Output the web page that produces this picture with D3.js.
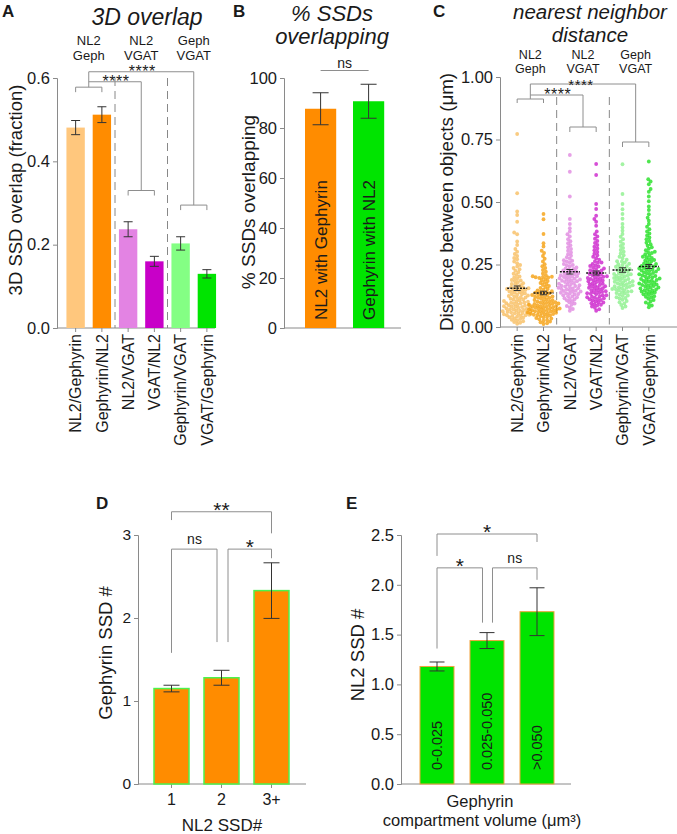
<!DOCTYPE html>
<html><head><meta charset="utf-8">
<script src="https://cdn.jsdelivr.net/npm/d3@7"></script>
<style>
body{margin:0;background:#fff}
text{font-family:"Liberation Sans",Arial,Helvetica,sans-serif;fill:#1a1a1a}
</style>
</head><body>
<svg id="c" width="677" height="834" xmlns="http://www.w3.org/2000/svg"></svg>
<script>
// ---------------- DATA ----------------
// Panel A: 3D overlap
const catsA = ["NL2/Gephyrin","Gephyrin/NL2","NL2/VGAT","VGAT/NL2","Gephyrin/VGAT","VGAT/Gephyrin"];
const overlapMean = [0.481, 0.512, 0.237, 0.160, 0.203, 0.130];
const overlapErr  = [0.017, 0.019, 0.018, 0.012, 0.016, 0.010];
const colorsA = ["#FFC77D","#FF8C00","#E383E3","#C800C8","#84FF84","#00E400"];
const groupTop = ["NL2","NL2","Geph"];
const groupBottom = ["Geph","VGAT","VGAT"];

// Panel B: % SSDs overlapping
const catsB = ["NL2 with Gephyrin","Gephyrin with NL2"];
const pctMean = [87.7, 90.7];
const pctErr  = [6.4, 6.8];
const colorsB = ["#FF8C00","#00E400"];

// Panel C: nearest neighbor distance (µm)
const catsC = catsA;
const nnd1 = [0.772,0.535,0.462,0.448,0.421,0.378,0.371,0.342,0.328,0.312,0.301,0.292,0.284,0.276,0.271,0.262,0.255,0.248,0.242,0.236,0.231,0.225,0.219,0.213,0.208,0.202,0.198,0.193,0.188,0.184,0.179,0.175,0.171,0.167,0.163,0.159,0.156,0.152,0.149,0.146,0.142,0.139,0.135,0.132,0.129,0.126,0.122,0.119,0.116,0.113,0.110,0.107,0.104,0.101,0.098,0.095,0.093,0.090,0.087,0.085,0.082,0.080,0.077,0.075,0.072,0.070,0.068,0.065,0.063,0.061,0.058,0.056,0.054,0.051,0.049,0.047,0.044,0.042,0.039,0.037,0.034,0.032,0.029,0.026,0.023,0.020,0.017,0.013,0.061,0.074,0.088,0.095,0.102,0.118,0.131,0.144,0.158,0.172,0.186,0.047,0.055,0.066,0.081,0.152,0.155,0.148,0.071,0.083,0.097,0.109,0.124,0.138,0.045,0.059];
const nnd2 = [0.452,0.431,0.372,0.335,0.322,0.305,0.296,0.284,0.273,0.262,0.251,0.243,0.236,0.228,0.221,0.214,0.207,0.203,0.200,0.198,0.196,0.192,0.188,0.184,0.180,0.176,0.172,0.168,0.164,0.160,0.156,0.152,0.149,0.146,0.143,0.140,0.137,0.134,0.131,0.128,0.125,0.122,0.119,0.116,0.113,0.110,0.107,0.104,0.101,0.099,0.096,0.094,0.091,0.089,0.086,0.084,0.082,0.079,0.077,0.075,0.073,0.070,0.068,0.066,0.064,0.062,0.060,0.057,0.055,0.053,0.051,0.048,0.046,0.044,0.041,0.039,0.036,0.034,0.031,0.028,0.025,0.022,0.019,0.015,0.012,0.101,0.092,0.083,0.071,0.063,0.058,0.117,0.126,0.135,0.078,0.088,0.199,0.201,0.052,0.067,0.074,0.093,0.108,0.121,0.141,0.049,0.056,0.069,0.081,0.097];
const nnd3 = [0.688,0.621,0.522,0.432,0.412,0.395,0.382,0.371,0.362,0.351,0.343,0.335,0.327,0.319,0.312,0.305,0.298,0.291,0.285,0.279,0.273,0.267,0.262,0.257,0.252,0.247,0.242,0.238,0.234,0.230,0.226,0.222,0.218,0.214,0.210,0.207,0.203,0.200,0.196,0.193,0.190,0.186,0.183,0.180,0.176,0.173,0.170,0.167,0.164,0.160,0.157,0.154,0.151,0.147,0.144,0.141,0.137,0.134,0.130,0.127,0.123,0.119,0.115,0.111,0.107,0.103,0.099,0.094,0.089,0.084,0.078,0.072,0.065,0.224,0.215,0.205,0.195,0.185,0.165,0.155,0.145,0.135,0.232,0.248,0.265,0.112,0.122,0.152,0.162,0.172,0.182,0.192,0.142,0.132,0.202,0.212];
const nnd4 = [0.652,0.608,0.492,0.472,0.445,0.432,0.421,0.405,0.382,0.371,0.362,0.353,0.344,0.336,0.328,0.321,0.314,0.307,0.300,0.293,0.287,0.281,0.275,0.269,0.263,0.257,0.252,0.247,0.242,0.237,0.232,0.227,0.223,0.219,0.215,0.211,0.207,0.203,0.199,0.195,0.191,0.187,0.183,0.179,0.175,0.171,0.167,0.163,0.159,0.155,0.151,0.147,0.143,0.139,0.135,0.131,0.127,0.123,0.119,0.115,0.111,0.107,0.103,0.099,0.095,0.091,0.087,0.082,0.077,0.071,0.065,0.212,0.201,0.192,0.181,0.173,0.162,0.153,0.141,0.133,0.121,0.112,0.226,0.234,0.244,0.258,0.145,0.098,0.089,0.205,0.196,0.186,0.168,0.157,0.137,0.127,0.117,0.108];
const nnd5 = [0.651,0.532,0.492,0.471,0.452,0.433,0.412,0.398,0.385,0.372,0.361,0.351,0.341,0.332,0.324,0.316,0.308,0.301,0.294,0.287,0.281,0.275,0.269,0.263,0.258,0.253,0.248,0.243,0.239,0.235,0.231,0.227,0.223,0.219,0.215,0.211,0.207,0.203,0.199,0.195,0.191,0.187,0.183,0.179,0.175,0.171,0.167,0.163,0.159,0.155,0.151,0.147,0.143,0.139,0.134,0.129,0.124,0.119,0.114,0.109,0.104,0.099,0.094,0.088,0.082,0.076,0.221,0.212,0.204,0.196,0.186,0.177,0.166,0.157,0.146,0.136,0.126,0.232,0.241,0.251,0.262,0.116,0.209,0.192,0.181,0.171,0.161,0.152,0.141];
const nnd6 = [0.662,0.591,0.582,0.571,0.552,0.541,0.522,0.503,0.482,0.468,0.451,0.437,0.425,0.412,0.401,0.391,0.382,0.374,0.366,0.358,0.351,0.344,0.337,0.331,0.325,0.319,0.313,0.307,0.301,0.296,0.291,0.286,0.281,0.276,0.271,0.266,0.262,0.258,0.254,0.250,0.246,0.242,0.238,0.234,0.230,0.226,0.222,0.218,0.214,0.210,0.206,0.202,0.198,0.194,0.190,0.186,0.182,0.178,0.174,0.170,0.166,0.162,0.158,0.154,0.150,0.146,0.142,0.138,0.133,0.128,0.123,0.118,0.113,0.108,0.103,0.098,0.092,0.086,0.079,0.244,0.236,0.228,0.216,0.204,0.192,0.184,0.172,0.164,0.152,0.141,0.131,0.252,0.268,0.279,0.298,0.121,0.211,0.199,0.188,0.176,0.168,0.157,0.147,0.136,0.224,0.232];
const nndSets = [nnd1, nnd2, nnd3, nnd4, nnd5, nnd6];
const nndMean = [0.155, 0.136, 0.221, 0.216, 0.228, 0.242];
const nndSem  = [0.009, 0.007, 0.009, 0.008, 0.009, 0.008];
const colorsC = ["#F8BE62","#F5A010","#E088E0","#CC22CC","#8CF08C","#22E022"];

// Panel D
const catsD = ["1","2","3+"];
const gephMean = [1.15, 1.28, 2.33];
const gephErr  = [0.04, 0.09, 0.335];

// Panel E
const catsE = ["0-0.025","0.025-0.050",">0.050"];
const nl2Mean = [1.18, 1.44, 1.73];
const nl2Err  = [0.045, 0.08, 0.24];

// ---------------- DRAW ----------------
const F = '"Liberation Sans", Arial, Helvetica, sans-serif';
const AX = "#8a8a8a", BR = "#8e8e8e", EB = "#333";
const svg = d3.select("#c");
svg.append("rect").attr("width",677).attr("height",834).attr("fill","#fff");

function txt(x, y, s, o = {}) {
  const t = svg.append("text").attr("x", x).attr("y", y).text(s)
    .attr("font-size", o.size || 14).attr("text-anchor", o.anchor || "middle")
    .attr("font-family", F);
  if (o.italic) t.attr("font-style", "italic");
  if (o.bold) t.attr("font-weight", "bold");
  if (o.rot) t.attr("transform", `rotate(${o.rot},${x},${y})`);
  if (o.ls) t.attr("letter-spacing", o.ls);
  if (o.fill) t.style("fill", o.fill);
  return t;
}
function yAxis(scale, x, ticks, fmt, fs) {
  const g = svg.append("g").attr("transform", `translate(${x},0)`)
    .call(d3.axisLeft(scale).tickValues(ticks).tickFormat(fmt).tickSizeOuter(0).tickSize(4).tickPadding(3));
  g.attr("font-size", fs).attr("font-family", F);
  g.select(".domain").attr("stroke", AX);
  g.selectAll(".tick line").attr("stroke", AX);
  g.selectAll(".tick text").style("fill", "#1a1a1a");
  return g;
}
function xLine(x0, x1, y) {
  svg.append("line").attr("x1", x0).attr("x2", x1).attr("y1", y).attr("y2", y).attr("stroke", AX);
}
function xTicks(scale, y) {
  const g = svg.append("g").attr("transform", `translate(0,${y})`)
    .call(d3.axisBottom(scale).tickSize(4).tickFormat("").tickSizeOuter(0));
  g.select(".domain").remove();
  g.selectAll(".tick line").attr("stroke", AX);
}
function path(d, o = {}) {
  svg.append("path").attr("d", d).attr("fill", "none").attr("stroke", o.stroke || BR).attr("stroke-width", o.w || 1)
    .attr("stroke-dasharray", o.dash || null);
}
function errBar(cx, yTop, yBot, cap) {
  path(`M${cx - cap / 2},${yTop}H${cx + cap / 2}M${cx},${yTop}V${yBot}M${cx - cap / 2},${yBot}H${cx + cap / 2}`, {stroke: EB});
}
function rotLabels(scale, cats, y, fs) {
  cats.forEach(c => {
    const cx = scale(c) + scale.bandwidth() / 2;
    txt(cx, y, c, {size: fs, anchor: "end", rot: -90}).attr("dy", "0.36em");
  });
}

// ===== Panel A =====
const xA = d3.scaleBand().domain(catsA).range([62.5, 220]).paddingInner(0.3).paddingOuter(0.15);
const yA = d3.scaleLinear().domain([0, 0.6]).range([328, 78]);
const cA = c => xA(c) + xA.bandwidth() / 2;
txt(2, 17, "A", {size: 17, anchor: "start", bold: true});
txt(147, 25, "3D overlap", {size: 23, italic: true});
yAxis(yA, 57, [0, 0.2, 0.4, 0.6], d3.format(".1f"), 16.5);
xLine(57, 215, yA(0));
xTicks(xA, yA(0));
svg.append("g").selectAll("rect").data(catsA).join("rect")
  .attr("x", d => xA(d)).attr("width", xA.bandwidth())
  .attr("y", (d, i) => yA(overlapMean[i])).attr("height", (d, i) => yA(0) - yA(overlapMean[i]))
  .attr("fill", (d, i) => colorsA[i]);
catsA.forEach((c, i) => errBar(cA(c), yA(overlapMean[i] + overlapErr[i]), yA(overlapMean[i] - overlapErr[i]), 9));
[[1, 2], [3, 4]].forEach(([a, b]) => {
  const x = (xA(catsA[a]) + xA.bandwidth() + xA(catsA[b])) / 2;
  path(`M${x},${yA(0.6)}V${yA(0)}`, {dash: "8,5", stroke: "#888"});
});
[0, 1, 2].forEach(g => {
  const x = (cA(catsA[2 * g]) + cA(catsA[2 * g + 1])) / 2;
  txt(x, 45, groupTop[g], {size: 13});
  txt(x, 60, groupBottom[g], {size: 13});
});
const midA = g => (cA(catsA[2 * g]) + cA(catsA[2 * g + 1])) / 2;
path(`M${cA(catsA[0])},${yA(0.566)}V${yA(0.578)}H${cA(catsA[1])}V${yA(0.566)}`);
path(`M${cA(catsA[2])},${yA(0.318)}V${yA(0.330)}H${cA(catsA[3])}V${yA(0.318)}`);
path(`M${cA(catsA[4])},${yA(0.283)}V${yA(0.295)}H${cA(catsA[5])}V${yA(0.283)}`);
path(`M${midA(0)},${yA(0.578)}V${yA(0.615)}H${midA(2)}V${yA(0.295)}`);
path(`M${midA(0)},${yA(0.591)}H${midA(1)}V${yA(0.330)}`);
txt((midA(0) + midA(1)) / 2 + 1, yA(0.591) + 5, "****", {size: 16, ls: 0.5});
txt((midA(0) + midA(2)) / 2 + 1, yA(0.615) + 5, "****", {size: 16, ls: 0.5});
txt(22, 190, "3D SSD overlap (fraction)", {size: 18.5, rot: -90});
rotLabels(xA, catsA, 334, 16);

// ===== Panel B =====
const xB = d3.scaleBand().domain(catsB).range([290.6, 398.6]).paddingInner(0.35).paddingOuter(0.3);
const yB = d3.scaleLinear().domain([0, 100]).range([328, 78]);
const cB = c => xB(c) + xB.bandwidth() / 2;
txt(233, 17, "B", {size: 17, anchor: "start", bold: true});
txt(332, 21, "% SSDs", {size: 22, italic: true});
txt(332, 44, "overlapping", {size: 22, italic: true});
yAxis(yB, 284, [0, 20, 40, 60, 80, 100], d3.format("d"), 16.5);
xLine(284, 401, yB(0));
svg.append("g").selectAll("rect").data(catsB).join("rect")
  .attr("x", d => xB(d)).attr("width", xB.bandwidth())
  .attr("y", (d, i) => yB(pctMean[i])).attr("height", (d, i) => yB(0) - yB(pctMean[i]))
  .attr("fill", (d, i) => colorsB[i]);
catsB.forEach((c, i) => errBar(cB(c), yB(pctMean[i] + pctErr[i]), yB(pctMean[i] - pctErr[i]), 16));
catsB.forEach(c => txt(cB(c), 320, c, {size: 17, anchor: "start", rot: -90}).attr("dy", "0.36em"));
path(`M${cB(catsB[0])},${yB(103)}H${cB(catsB[1])}`);
txt((cB(catsB[0]) + cB(catsB[1])) / 2, yB(103) - 3, "ns", {size: 14});
txt(255, 202, "% SSDs overlapping", {size: 19, rot: -90});

// ===== Panel C =====
const xC = d3.scaleBand().domain(catsC).range([504, 662]);
const yC = d3.scaleLinear().domain([0, 1]).range([327, 77]);
const cC = c => xC(c) + xC.bandwidth() / 2;
txt(433, 17, "C", {size: 17, anchor: "start", bold: true});
txt(590, 18.5, "nearest neighbor", {size: 20.5, italic: true});
txt(590, 41.5, "distance", {size: 20.5, italic: true});
yAxis(yC, 500, [0, 0.25, 0.5, 0.75, 1], d3.format(".2f"), 16.5);
xLine(500, 677, yC(0));
xTicks(xC, yC(0));
[[1, 2], [3, 4]].forEach(([a, b]) => {
  const x = (cC(catsC[a]) + cC(catsC[b])) / 2;
  path(`M${x},${yC(0.92)}V${yC(0.01)}`, {dash: "8,5", stroke: "#888"});
});
function swarm(values, cx, r) {
  const pts = values.map(v => ({v, y: yC(v)})).sort((a, b) => b.y - a.y);
  const placed = [];
  const d = 2 * r * 0.82;
  pts.forEach((p, idx) => {
    const sgn = idx % 2 ? 1 : -1;
    for (let k = 0; k < 200; k++) {
      const off = k === 0 ? 0 : sgn * (k % 2 ? 1 : -1) * Math.ceil(k / 2) * 0.6;
      const x = cx + off;
      let ok = true;
      for (const q of placed) {
        const dy = q.y - p.y;
        if (Math.abs(dy) < d && (q.x - x) ** 2 + dy ** 2 < d * d) { ok = false; break; }
      }
      if (ok) { p.x = x; placed.push(p); break; }
    }
  });
  return placed;
}
catsC.forEach((c, i) => {
  const pts = swarm(nndSets[i], cC(c), 1.9);
  svg.append("g").selectAll("circle").data(pts).join("circle")
    .attr("cx", d => d.x).attr("cy", d => d.y).attr("r", 1.9)
    .attr("fill", colorsC[i]).attr("fill-opacity", 0.8);
});
catsC.forEach((c, i) => {
  const cx = cC(c);
  path(`M${cx - 10},${yC(nndMean[i])}H${cx + 10}`, {stroke: "#111", w: 1.6, dash: "2,1.2"});
  errBar(cx, yC(nndMean[i] + nndSem[i]), yC(nndMean[i] - nndSem[i]), 7);
});
[0, 1, 2].forEach(g => {
  const x = (cC(catsC[2 * g]) + cC(catsC[2 * g + 1])) / 2;
  txt(x, 58.5, groupTop[g], {size: 12.5});
  txt(x, 73, groupBottom[g], {size: 12.5});
});
const midC = g => (cC(catsC[2 * g]) + cC(catsC[2 * g + 1])) / 2;
path(`M${cC(catsC[0])},${yC(0.896)}V${yC(0.912)}H${cC(catsC[1])}V${yC(0.896)}`);
path(`M${cC(catsC[2])},${yC(0.78)}V${yC(0.80)}H${cC(catsC[3])}V${yC(0.78)}`);
path(`M${cC(catsC[4])},${yC(0.72)}V${yC(0.74)}H${cC(catsC[5])}V${yC(0.72)}`);
path(`M${midC(0)},${yC(0.912)}V${yC(0.972)}H${midC(2)}V${yC(0.74)}`);
path(`M${midC(0)},${yC(0.928)}H${midC(1)}V${yC(0.80)}`);
txt((midC(0) + midC(1)) / 2 + 1, yC(0.928) + 5, "****", {size: 16, ls: 0.5});
txt((midC(0) + midC(2)) / 2 - 2, yC(0.972) + 6, "****", {size: 15, ls: 0.5});
txt(453, 202, "Distance between objects (μm)", {size: 18.8, rot: -90});
rotLabels(xC, catsC, 334, 16);

// ===== Panel D =====
const xD = d3.scaleBand().domain(catsD).range([139, 304]).paddingInner(0.3).paddingOuter(0.3);
const yD = d3.scaleLinear().domain([0, 3]).range([784, 535]);
const cD = c => xD(c) + xD.bandwidth() / 2;
txt(96, 509, "D", {size: 17, anchor: "start", bold: true});
yAxis(yD, 138, [0, 1, 2, 3], d3.format("d"), 15.5);
xLine(138, 306, yD(0));
xTicks(xD, yD(0));
svg.append("g").selectAll("rect").data(catsD).join("rect")
  .attr("x", d => xD(d)).attr("width", xD.bandwidth())
  .attr("y", (d, i) => yD(gephMean[i])).attr("height", (d, i) => yD(0) - yD(gephMean[i]))
  .attr("fill", "#FF8C00").attr("stroke", "#4CF24C").attr("stroke-width", 1.5);
catsD.forEach((c, i) => errBar(cD(c), yD(gephMean[i] + gephErr[i]), yD(gephMean[i] - gephErr[i]), 16));
catsD.forEach(c => txt(cD(c), 805, c, {size: 16}));
txt(222, 831, "NL2 SSD#", {size: 17});
txt(112, 653, "Gephyrin SSD #", {size: 18.5, rot: -90});
{
  const [a, b, c] = catsD.map(cD);
  path(`M${a},${yD(1.58)}V${yD(2.83)}H${b - 4.5}V${yD(1.71)}`);
  path(`M${b + 6.5},${yD(1.71)}V${yD(2.83)}H${c}V${yD(2.72)}`);
  path(`M${a},${yD(3.18)}V${yD(3.28)}H${c}V${yD(3.02)}`);
  txt((a + b) / 2 - 2, yD(2.83) - 5, "ns", {size: 14});
  txt((b + 6.5 + c) / 2, yD(2.83) + 5, "*", {size: 21});
  txt((a + c) / 2, yD(3.28) + 5, "**", {size: 21});
}

// ===== Panel E =====
const xE = d3.scaleBand().domain(catsE).range([402.5, 571.5]).paddingInner(0.32).paddingOuter(0.35);
const yE = d3.scaleLinear().domain([0, 2.5]).range([784, 535]);
const cE = c => xE(c) + xE.bandwidth() / 2;
txt(346, 509, "E", {size: 17, anchor: "start", bold: true});
yAxis(yE, 401, [0, 0.5, 1, 1.5, 2, 2.5], d3.format(".1f"), 16.5);
xLine(401, 571, yE(0));
svg.append("g").selectAll("rect").data(catsE).join("rect")
  .attr("x", d => xE(d)).attr("width", xE.bandwidth())
  .attr("y", (d, i) => yE(nl2Mean[i])).attr("height", (d, i) => yE(0) - yE(nl2Mean[i]))
  .attr("fill", "#00E400").attr("stroke", "#F2A23C").attr("stroke-width", 1);
catsE.forEach((c, i) => errBar(cE(c), yE(nl2Mean[i] + nl2Err[i]), yE(nl2Mean[i] - nl2Err[i]), 15));
catsE.forEach(c => txt(cE(c), 770, c, {size: 14.5, anchor: "start", rot: -90}).attr("dy", "0.36em"));
txt(480, 807, "Gephyrin", {size: 16.5});
txt(482, 826, "compartment volume (μm³)", {size: 16.5});
txt(364, 655, "NL2 SSD #", {size: 18.5, rot: -90});
{
  const [a, b, c] = catsE.map(cE);
  path(`M${a},${yE(2.29)}V${yE(2.51)}H${c}V${yE(2.43)}`);
  path(`M${a},${yE(1.36)}V${yE(2.17)}H${b - 4.5}V${yE(1.62)}`);
  path(`M${b + 5.5},${yE(1.62)}V${yE(2.17)}H${c}V${yE(2.05)}`);
  txt((a + c) / 2, yE(2.51) + 5, "*", {size: 21});
  txt((a + b - 4.5) / 2, yE(2.17) + 5, "*", {size: 21});
  txt((b + 5.5 + c) / 2, yE(2.17) - 5, "ns", {size: 14});
}
</script>
</body></html>
